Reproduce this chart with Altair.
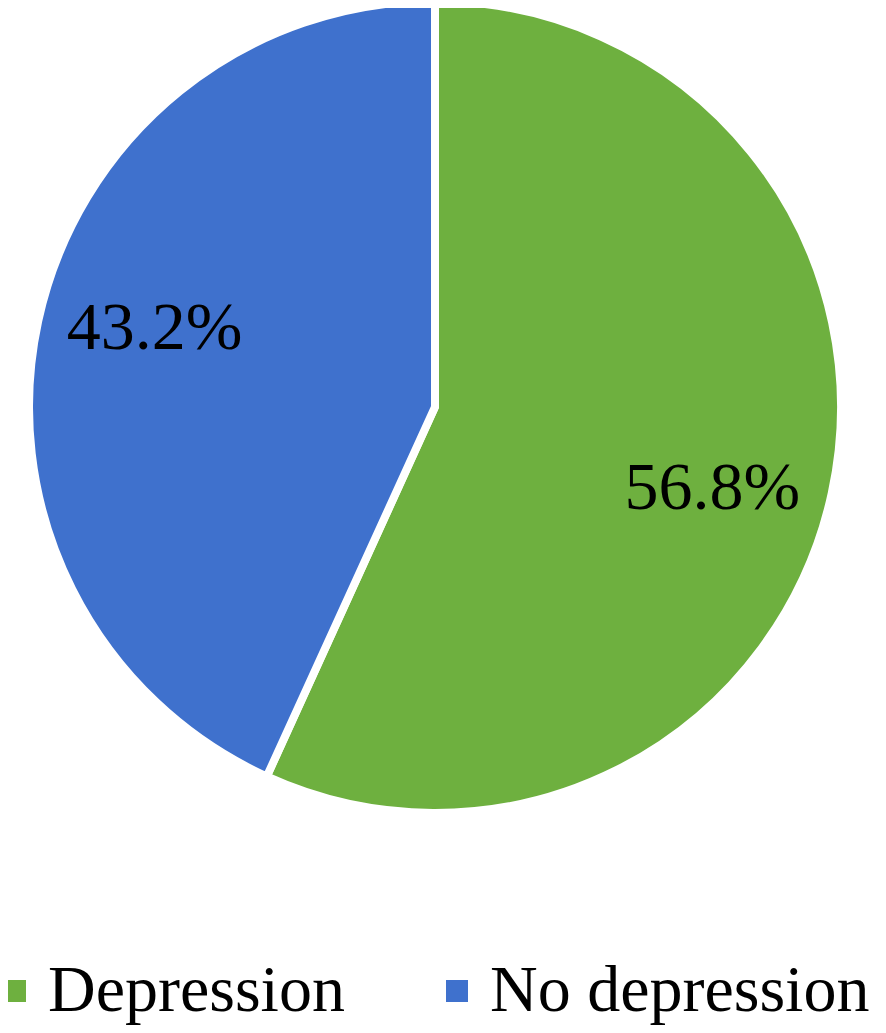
import altair as alt
import pandas as pd

categories = ["Depression", "No depression"]
values = [56.8, 43.2]
labels = ["56.8%", "43.2%"]
colors = ["#6EB03F", "#3F71CD"]

df = pd.DataFrame({"category": categories, "value": values, "label": labels, "order": [0, 1]})

cx, cy = 427, 399

base = alt.Chart(df)

arcs = base.mark_arc(outerRadius=406, stroke="white", strokeWidth=8).encode(
    theta=alt.Theta("value:Q", stack=True),
    order=alt.Order("order:Q"),
    x=alt.value(cx),
    y=alt.value(cy),
    color=alt.Color(
        "category:N",
        scale=alt.Scale(domain=categories, range=colors),
        legend=alt.Legend(
            title=None,
            orient="none",
            direction="horizontal",
            legendX=-26,
            legendY=950,
            symbolType="square",
            symbolSize=484,
            symbolStrokeWidth=0,
            symbolOpacity=1,
            labelFont="Liberation Serif",
            labelFontSize=66,
            labelColor="black",
            labelOffset=0,
            labelLimit=1000,
            columnPadding=79,
            padding=0,
        ),
    ),
)

text_style = dict(radius=290, font="Liberation Serif", fontSize=68)
text_enc = dict(
    theta=alt.Theta("mid:Q"),
    text="label:N",
    x=alt.value(cx),
    y=alt.value(cy),
    color=alt.value("black"),
)

text_base = base.transform_stack(
    stack="value", groupby=[], as_=["v0", "v1"], sort=[alt.SortField("order", order="ascending")]
).transform_calculate(mid="(datum.v0 + datum.v1) / 2")

text_green = text_base.transform_filter(alt.datum.category == categories[0]).mark_text(
    dx=-6, dy=21, **text_style
).encode(**text_enc)
text_blue = text_base.transform_filter(alt.datum.category == categories[1]).mark_text(
    dx=3, dy=-17, **text_style
).encode(**text_enc)

chart = (arcs + text_green + text_blue).properties(
    width=870, height=1017, padding=0, autosize=alt.AutoSizeParams(type="none")
).configure_view(stroke=None)

chart.save("out.html", embed_options={"renderer": "svg", "actions": False})
